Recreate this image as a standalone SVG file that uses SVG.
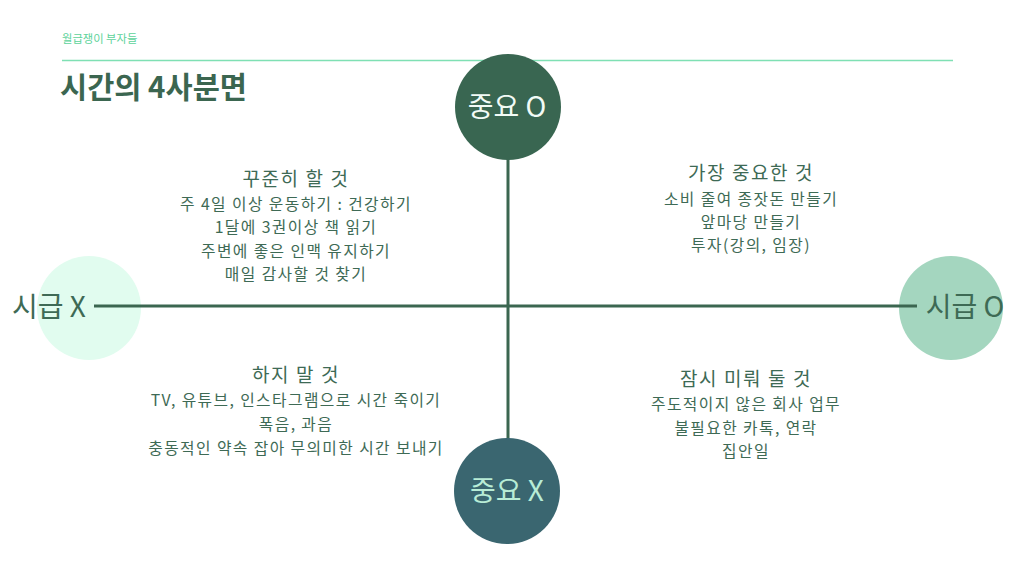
<svg xmlns="http://www.w3.org/2000/svg" width="1014" height="570" viewBox="0 0 1014 570">
<style>
text{font-family:"Noto Sans CJK KR","Noto Sans",sans-serif;}
.q{fill:#3e6a55;text-anchor:middle;font-size:15.8px;letter-spacing:1.4px;}
.qt{fill:#3e6a55;text-anchor:middle;font-size:19px;letter-spacing:1.6px;}
.ax{font-size:28px;text-anchor:middle;}
.ln{stroke:#3b6650;stroke-width:3;fill:none;}
</style>
<rect width="1014" height="570" fill="#ffffff"/>
<g id="header">
<text x="62" y="43" font-size="11.3" fill="#5dd39b">월급쟁이 부자들</text>
<line x1="62" y1="60.5" x2="953" y2="60.5" stroke="#7fe0b4" stroke-width="1.5"/>
<text x="60" y="98" font-size="29.5" font-weight="bold" fill="#3b6650">시간의 4사분면</text>
</g>
<g id="axes-bg">
<circle id="left-bg" cx="89" cy="308" r="52" fill="#e1fcef"/>
<circle id="right-bg" cx="951" cy="308" r="52" fill="#a4d6bf"/>
</g>
<g id="connectors">
<line class="ln" x1="508" y1="158" x2="508" y2="440"/>
<line class="ln" x1="94" y1="306" x2="917" y2="306"/>
</g>
<g id="node-important">
<circle cx="508" cy="107" r="53" fill="#396651"/>
<text class="ax" x="507" y="117" fill="#f2fbf6">중요 O</text>
</g>
<g id="node-not-important">
<circle cx="507" cy="491" r="53" fill="#3a6670"/>
<text class="ax" x="507" y="501" fill="#b8ecd6">중요 X</text>
</g>
<g id="node-not-urgent">
<text class="ax" x="49" y="317" fill="#3e6a55">시급 X</text>
</g>
<g id="node-urgent">
<text class="ax" x="965" y="317" fill="#3e6a55">시급 O</text>
</g>
<g id="q-top-left">
<text class="qt" x="296" y="186">꾸준히 할 것</text>
<text class="q" x="296" y="210">주 4일 이상 운동하기 : 건강하기</text>
<text class="q" x="296" y="233">1달에 3권이상 책 읽기</text>
<text class="q" x="296" y="257">주변에 좋은 인맥 유지하기</text>
<text class="q" x="296" y="280">매일 감사할 것 찾기</text>
</g>
<g id="q-top-right">
<text class="qt" x="751" y="180">가장 중요한 것</text>
<text class="q" x="751" y="205">소비 줄여 종잣돈 만들기</text>
<text class="q" x="751" y="228">앞마당 만들기</text>
<text class="q" x="751" y="251">투자(강의, 임장)</text>
</g>
<g id="q-bottom-left">
<text class="qt" x="296" y="382">하지 말 것</text>
<text class="q" x="296" y="406">TV, 유튜브, 인스타그램으로 시간 죽이기</text>
<text class="q" x="296" y="430">폭음, 과음</text>
<text class="q" x="296" y="454">충동적인 약속 잡아 무의미한 시간 보내기</text>
</g>
<g id="q-bottom-right">
<text class="qt" x="746" y="386">잠시 미뤄 둘 것</text>
<text class="q" x="746" y="410">주도적이지 않은 회사 업무</text>
<text class="q" x="746" y="434">불필요한 카톡, 연락</text>
<text class="q" x="746" y="457">집안일</text>
</g>
</svg>
